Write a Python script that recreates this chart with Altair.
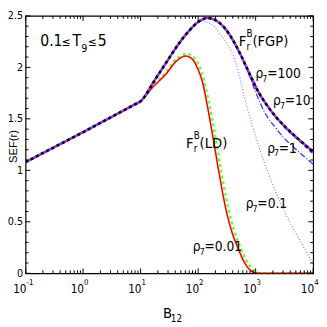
import altair as alt
import pandas as pd

W, H = 295, 264
FONT = "Liberation Sans Narrow, DejaVu Sans Condensed, Arial Narrow, sans-serif"

# curves: log10(B12) exponents and SEF values
base_e = [-1, -0.5, 0, 0.5, 0.9]
base_v = [1.08, 1.225, 1.37, 1.52, 1.64]

fgp_e = base_e + [1, 1.25, 1.45, 1.67, 1.85, 2.0, 2.16, 2.3, 2.45, 2.6, 2.75, 2.9, 3.05, 3.2, 3.35, 3.5, 3.75, 4.0]
fgp_v = base_v + [1.67, 1.88, 2.05, 2.235, 2.36, 2.44, 2.48, 2.46, 2.39, 2.27, 2.11, 1.93, 1.76, 1.63, 1.52, 1.43, 1.30, 1.18]

r100_e = fgp_e
r100_v = fgp_v

r10_e = fgp_e
r10_v = base_v + [1.67, 1.88, 2.05, 2.235, 2.36, 2.44, 2.48, 2.46, 2.39, 2.27, 2.11, 1.93, 1.76, 1.63, 1.52, 1.42, 1.29, 1.16]

r1_e = base_e + [1, 1.25, 1.45, 1.67, 1.85, 2.0, 2.16, 2.3, 2.45, 2.6, 2.75, 2.88, 3.0, 3.15, 3.35, 3.5, 3.75, 4.0]
r1_v = base_v + [1.67, 1.88, 2.05, 2.235, 2.36, 2.44, 2.48, 2.46, 2.39, 2.27, 2.11, 1.94, 1.76, 1.57, 1.41, 1.31, 1.18, 1.06]

r01_e = base_e + [1, 1.25, 1.45, 1.67, 1.85, 2.04, 2.2, 2.4, 2.59, 2.67, 2.81, 3.0, 3.2, 3.5, 3.78, 4.0]
r01_v = base_v + [1.67, 1.88, 2.05, 2.23, 2.35, 2.45, 2.43, 2.31, 2.14, 2.02, 1.70, 1.33, 1.00, 0.60, 0.31, 0.09]

ld_e = base_e + [1, 1.2, 1.45, 1.62, 1.79, 1.9, 2.0, 2.08, 2.146, 2.25, 2.35, 2.44, 2.5, 2.6, 2.69, 2.8, 2.93, 3.05, 4.0]
ld_v = base_v + [1.67, 1.80, 1.94, 2.06, 2.11, 2.08, 1.98, 1.85, 1.67, 1.35, 1.02, 0.74, 0.58, 0.38, 0.25, 0.11, 0.02, 0.0, 0.0]

r001_e = base_e + [1, 1.2, 1.45, 1.62, 1.8, 1.92, 2.03, 2.11, 2.18, 2.29, 2.39, 2.48, 2.54, 2.64, 2.73, 2.84, 2.97, 3.1, 4.0]
r001_v = base_v + [1.67, 1.81, 1.96, 2.08, 2.13, 2.10, 2.00, 1.86, 1.68, 1.36, 1.03, 0.75, 0.59, 0.39, 0.26, 0.12, 0.03, 0.0, 0.0]

series = [
    ("rho01", r01_e, r01_v),
    ("rho1", r1_e, r1_v),
    ("rho10", r10_e, r10_v),
    ("rho001", r001_e, r001_v),
    ("ld", ld_e, ld_v),
    ("rho100", r100_e, r100_v),
    ("fgp", fgp_e, fgp_v),
]

styles = {
    "rho01": dict(color="#7f7fff", strokeWidth=1.2, strokeDash=[1, 2]),
    "rho1": dict(color="#3333ff", strokeWidth=1.3, strokeDash=[6, 2, 1, 2]),
    "rho10": dict(color="#3333ff", strokeWidth=1.5, strokeDash=[4, 3]),
    "rho001": dict(color="#66ff33", strokeWidth=2.5, strokeDash=[3, 3]),
    "ld": dict(color="#ff0000", strokeWidth=1.6),
    "rho100": dict(color="#9933ff", strokeWidth=2.6),
    "fgp": dict(color="#000000", strokeWidth=2.6, strokeDash=[3, 3]),
}

rows = []
for name, es, vs in series:
    for i, (e, v) in enumerate(zip(es, vs)):
        rows.append({"s": name, "B": 10 ** e, "v": v, "i": i})
df = pd.DataFrame(rows)

xs = alt.Scale(type="log", domain=[0.1, 10000])
ys = alt.Scale(domain=[0, 2.5])

layers = []
for name, _, _ in series:
    layers.append(
        alt.Chart(df)
        .transform_filter(alt.datum.s == name)
        .mark_line(interpolate="monotone", clip=True, **styles[name])
        .encode(
            x=alt.X("B:Q", scale=xs, axis=None),
            y=alt.Y("v:Q", scale=ys, axis=alt.Axis(values=[0, 0.5, 1, 1.5, 2, 2.5], format="~g", tickSize=0,
                                                   labelFont=FONT, labelFontSize=11, labelPadding=3,
                                                   domain=False, grid=False, title=None)),
            order="i:Q",
        )
    )

# inward ticks
y_major = [0, 0.5, 1, 1.5, 2, 2.5]
y_minor = [0.1, 0.2, 0.3, 0.4, 0.6, 0.7, 0.8, 0.9, 1.1, 1.2, 1.3, 1.4, 1.6, 1.7, 1.8, 1.9, 2.1, 2.2, 2.3, 2.4]
x_major = [0.1, 1, 10, 100, 1000, 10000]
x_minor = [m * d for d in [0.1, 1, 10, 100, 1000] for m in range(2, 10)]

def yt(vals, x0, x1):
    return alt.Chart(pd.DataFrame({"t": vals})).mark_rule(color="black", strokeWidth=1).encode(
        y=alt.Y("t:Q", scale=ys), x=alt.value(x0), x2=alt.value(x1))

def xt(vals, y0, y1):
    return alt.Chart(pd.DataFrame({"t": vals})).mark_rule(color="black", strokeWidth=1).encode(
        x=alt.X("t:Q", scale=xs), y=alt.value(y0), y2=alt.value(y1))

ticks = [yt(y_major, 0, 5), yt(y_minor, 0, 3), yt(y_major, W, W - 5), yt(y_minor, W, W - 3),
         xt(x_major, H, H - 5), xt(x_minor, H, H - 3), xt(x_major, 0, 5), xt(x_minor, 0, 3)]

# x tick labels: "10" with superscript exponent
x_exp = ["-1", "0", "1", "2", "3", "4"]
xl = pd.DataFrame({"B": x_major, "e": x_exp})
xlab10 = alt.Chart(xl).mark_text(font=FONT, fontSize=12, align="right", baseline="middle", dx=1).encode(
    x=alt.X("B:Q", scale=xs), y=alt.value(H + 16), text=alt.value("10"))
xlabE = alt.Chart(xl).mark_text(font=FONT, fontSize=8, align="left", baseline="middle", dx=1).encode(
    x=alt.X("B:Q", scale=xs), y=alt.value(H + 10), text="e:N")

# axis titles
xt_main = alt.Chart(pd.DataFrame({"t": ["B"]})).mark_text(font=FONT, fontSize=15, align="left", baseline="middle").encode(
    x=alt.value(141), y=alt.value(H + 41), text="t:N")
xt_sub = alt.Chart(pd.DataFrame({"t": ["12"]})).mark_text(font=FONT, fontSize=10, align="left", baseline="middle").encode(
    x=alt.value(149), y=alt.value(H + 47), text="t:N")
ytitle = alt.Chart(pd.DataFrame({"t": ["SEF(r)"]})).mark_text(font="Liberation Sans, Arial, sans-serif", fontSize=11.5, angle=270,
                                                                 align="center", baseline="middle").encode(
    x=alt.value(-11.5), y=alt.value(134), text="t:N")

# annotation 0.1 <= T9 <= 5, built piece by piece
t9 = pd.DataFrame({"B": [0.18], "v": [2.25]})
def tpiece(txt, size, dx, dy):
    return alt.Chart(t9).mark_text(font=FONT, fontSize=size, align="left", baseline="middle", dx=dx, dy=dy).encode(
        x=alt.X("B:Q", scale=xs), y=alt.Y("v:Q", scale=ys), text=alt.value(txt))
t9p = [tpiece("0.1", 16, 0, 0), tpiece("≤", 12, 22, 0), tpiece("T", 16, 33, 0), tpiece("9", 11, 42, 8),
       tpiece("≤", 12, 49, 0), tpiece("5", 16, 59, 0)]

fl = pd.DataFrame({"B": [509, 61.5], "v": [2.25, 1.26], "rest": ["(FGP)", "(LD)"]})
def fpiece(text_enc, size, dx, dy):
    return alt.Chart(fl).mark_text(font=FONT, fontSize=size, align="left", baseline="middle", dx=dx, dy=dy).encode(
        x=alt.X("B:Q", scale=xs), y=alt.Y("v:Q", scale=ys), text=text_enc)
fF = fpiece(alt.value("F"), 15, 0, 0)
fB = fpiece(alt.value("B"), 10, 8, -8)
fr = fpiece(alt.value("r"), 10, 8, 6)
fR = fpiece("rest:N", 15, 14, 0)

rl = pd.DataFrame({"B": [993, 2010, 1585, 671, 81], "v": [1.93, 1.67, 1.21, 0.67, 0.256],
                   "val": ["=100", "=10", "=1", "=0.1", "=0.01"]})
def rpiece(text_enc, size, dx, dy):
    return alt.Chart(rl).mark_text(font=FONT, fontSize=size, align="left", baseline="middle", dx=dx, dy=dy).encode(
        x=alt.X("B:Q", scale=xs), y=alt.Y("v:Q", scale=ys), text=text_enc)
rr = rpiece(alt.value("ρ"), 14, 0, 0)
r7 = rpiece(alt.value("7"), 9, 7, 5)
rv = rpiece("val:N", 14, 12, 0)

chart = alt.layer(*layers, *ticks, xlab10, xlabE, xt_main, xt_sub, ytitle,
                  *t9p, fF, fB, fr, fR, rr, r7, rv).properties(
    width=W, height=H,
    autosize=alt.AutoSizeParams(type="none"),
    padding={"left": 18, "top": 4, "right": 6, "bottom": 50},
).configure_view(stroke="black", strokeWidth=1.2).configure_axis(labelColor="black")

chart.save("out.html", embed_options={"renderer": "svg", "actions": False})
